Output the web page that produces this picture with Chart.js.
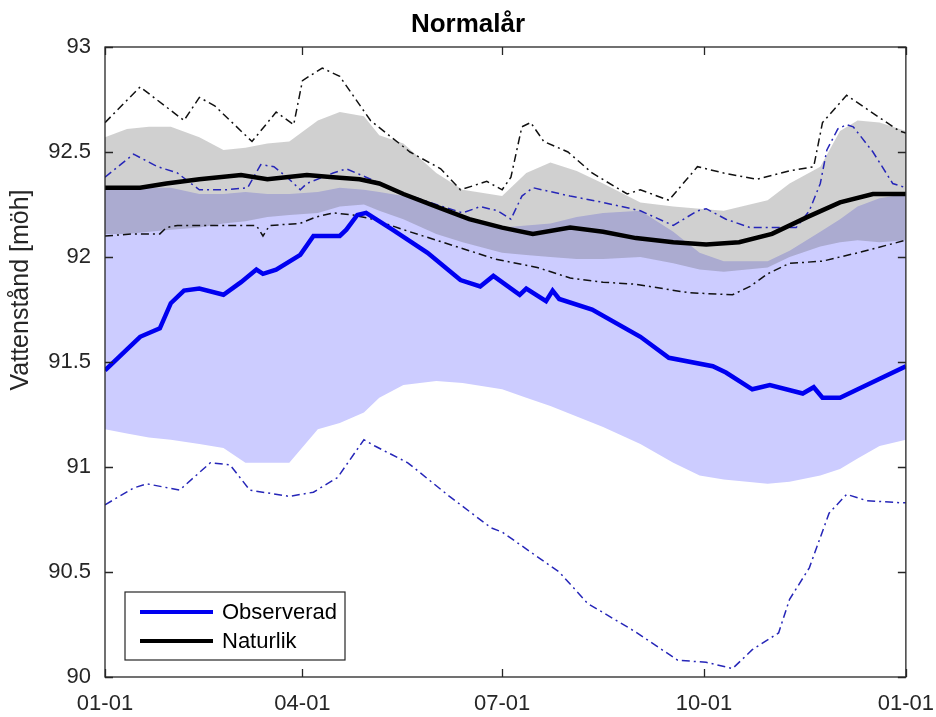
<!DOCTYPE html>
<html>
<head>
<meta charset="utf-8">
<script src="https://cdn.jsdelivr.net/npm/chart.js@4.4.1/dist/chart.umd.min.js"></script>
<style>
  html, body { margin: 0; padding: 0; background: #fff; }
  #wrap { width: 936px; height: 717px; }
</style>
</head>
<body>
<div id="wrap"><canvas id="chart" width="936" height="717"></canvas></div>
<script>
// x axis = day of year
const tickDays = [0, 90, 181, 273, 365]
const tickLabels = ["01-01", "04-01", "07-01", "10-01", "01-01"]

// shaded bands (shared day grid)
const bandDays = [0, 10, 20, 30, 43, 54, 64, 74, 84, 97, 107, 118, 125, 136, 151, 163, 181, 192, 203, 215, 227, 244, 259, 271, 282, 302, 312, 326, 335, 343, 353, 365]
const grayTop = [92.57, 92.61, 92.62, 92.62, 92.57, 92.51, 92.52, 92.54, 92.55, 92.65, 92.69, 92.67, 92.58, 92.54, 92.40, 92.32, 92.29, 92.40, 92.45, 92.41, 92.35, 92.26, 92.24, 92.23, 92.22, 92.27, 92.35, 92.43, 92.60, 92.65, 92.64, 92.60]
const grayBot = [92.11, 92.11, 92.12, 92.13, 92.14, 92.16, 92.17, 92.19, 92.20, 92.21, 92.24, 92.25, 92.22, 92.18, 92.11, 92.07, 92.02, 92.01, 92.00, 91.99, 91.99, 92.00, 91.97, 91.94, 91.93, 91.95, 92.00, 92.05, 92.07, 92.08, 92.07, 92.08]
const lavTop = [92.32, 92.33, 92.33, 92.33, 92.30, 92.30, 92.31, 92.30, 92.30, 92.31, 92.33, 92.32, 92.31, 92.29, 92.24, 92.20, 92.14, 92.15, 92.16, 92.19, 92.21, 92.22, 92.12, 92.02, 91.98, 91.98, 92.03, 92.12, 92.18, 92.24, 92.28, 92.30]
const lavBot = [91.18, 91.16, 91.14, 91.13, 91.11, 91.09, 91.02, 91.02, 91.02, 91.18, 91.21, 91.26, 91.33, 91.39, 91.41, 91.40, 91.37, 91.33, 91.29, 91.24, 91.19, 91.11, 91.02, 90.96, 90.94, 90.92, 90.93, 90.96, 90.99, 91.04, 91.10, 91.13]

// Observerad (thick blue)
const obsDays = [0, 8, 16, 25, 30, 36, 43, 54, 62, 69, 72, 78, 89, 95, 107, 110, 115, 119, 131, 147, 162, 171, 177, 189, 192, 201, 204, 207, 222, 244, 257, 277, 283, 295, 303, 318, 323, 327, 335, 345, 365]
const obsVals = [91.46, 91.54, 91.62, 91.66, 91.78, 91.84, 91.85, 91.82, 91.88, 91.94, 91.92, 91.94, 92.01, 92.10, 92.10, 92.13, 92.20, 92.21, 92.13, 92.02, 91.89, 91.86, 91.91, 91.82, 91.85, 91.79, 91.84, 91.80, 91.75, 91.62, 91.52, 91.48, 91.45, 91.37, 91.39, 91.35, 91.38, 91.33, 91.33, 91.38, 91.48]

// Naturlik (thick black)
const natDays = [0, 16, 28, 43, 62, 74, 92, 104, 116, 125, 136, 151, 166, 181, 195, 212, 227, 242, 259, 274, 289, 304, 320, 335, 350, 365]
const natVals = [92.33, 92.33, 92.35, 92.37, 92.39, 92.37, 92.39, 92.38, 92.37, 92.35, 92.30, 92.24, 92.18, 92.14, 92.11, 92.14, 92.12, 92.09, 92.07, 92.06, 92.07, 92.11, 92.19, 92.26, 92.30, 92.30]

// dash-dot envelopes
const natMaxDays = [0, 16, 36, 43, 50, 67, 78, 86, 90, 99, 107, 121, 139, 153, 162, 174, 181, 185, 190, 194, 200, 211, 222, 238, 244, 257, 270, 282, 297, 312, 323, 327, 338, 362, 365]
const natMaxVals = [92.64, 92.81, 92.65, 92.76, 92.72, 92.55, 92.69, 92.63, 92.84, 92.90, 92.86, 92.65, 92.50, 92.42, 92.32, 92.36, 92.32, 92.38, 92.62, 92.64, 92.55, 92.50, 92.40, 92.30, 92.32, 92.27, 92.43, 92.40, 92.37, 92.41, 92.43, 92.64, 92.77, 92.60, 92.59]
const natMinDays = [0, 13, 25, 28, 33, 43, 69, 72, 75, 89, 96, 104, 113, 122, 136, 151, 166, 178, 197, 212, 227, 242, 266, 286, 294, 302, 312, 327, 343, 365]
const natMinVals = [92.10, 92.11, 92.11, 92.14, 92.15, 92.15, 92.15, 92.10, 92.15, 92.16, 92.19, 92.21, 92.20, 92.18, 92.13, 92.08, 92.03, 91.99, 91.95, 91.90, 91.88, 91.87, 91.83, 91.82, 91.86, 91.92, 91.97, 91.98, 92.02, 92.08]
const obsMaxDays = [0, 13, 24, 33, 43, 55, 65, 71, 77, 83, 89, 92, 104, 110, 119, 134, 148, 163, 171, 179, 185, 190, 195, 212, 227, 244, 259, 270, 274, 283, 294, 315, 321, 326, 329, 334, 338, 341, 350, 359, 365]
const obsMaxVals = [92.38, 92.49, 92.43, 92.40, 92.32, 92.32, 92.33, 92.44, 92.43, 92.38, 92.32, 92.35, 92.40, 92.42, 92.38, 92.31, 92.26, 92.21, 92.24, 92.22, 92.18, 92.29, 92.33, 92.29, 92.26, 92.22, 92.15, 92.22, 92.23, 92.18, 92.14, 92.14, 92.22, 92.35, 92.51, 92.61, 92.63, 92.62, 92.50, 92.35, 92.33]
const obsMinDays = [0, 13, 19, 34, 48, 57, 66, 84, 95, 106, 118, 123, 138, 157, 176, 181, 207, 220, 241, 261, 274, 286, 295, 307, 312, 321, 330, 338, 347, 362, 365]
const obsMinVals = [90.82, 90.90, 90.92, 90.89, 91.02, 91.01, 90.89, 90.86, 90.88, 90.95, 91.13, 91.10, 91.02, 90.86, 90.71, 90.69, 90.50, 90.35, 90.22, 90.08, 90.07, 90.04, 90.13, 90.21, 90.37, 90.52, 90.78, 90.87, 90.84, 90.83, 90.83]

const pts = (days, vals) => days.map((d, i) => ({ x: d, y: vals[i] }))

const fontFamily = "'Liberation Sans', Arial, sans-serif"
const axisColor = "#262626"
const blueDash = "#2626b8"
const dashDot = [8, 4, 2, 4]
const noLine = "rgba(0,0,0,0)"
const yTitle = "Vattenstånd [möh]"

const common = { pointRadius: 0, pointHoverRadius: 0, tension: 0, fill: false }

// frame with inward ticks, y label and legend inside the plot (matlab look)
const framePlugin = {
  id: "frame",
  afterDatasetsDraw(chart) {
    const { ctx, chartArea: a, scales: { x, y } } = chart
    ctx.save()
    ctx.strokeStyle = axisColor
    ctx.lineWidth = 1.3
    ctx.strokeRect(a.left, a.top, a.right - a.left, a.bottom - a.top)
    ctx.beginPath()
    x.ticks.forEach((t) => {
      const px = Math.round(x.getPixelForValue(t.value)) + 0.5
      ctx.moveTo(px, a.bottom); ctx.lineTo(px, a.bottom - 8)
      ctx.moveTo(px, a.top); ctx.lineTo(px, a.top + 8)
    })
    y.ticks.forEach((t) => {
      const py = Math.round(y.getPixelForValue(t.value)) + 0.5
      ctx.moveTo(a.left, py); ctx.lineTo(a.left + 8, py)
      ctx.moveTo(a.right, py); ctx.lineTo(a.right - 8, py)
    })
    ctx.stroke()

    // y axis label, sits a bit above the middle like in the original
    ctx.save()
    ctx.translate(21, 290)
    ctx.rotate(-Math.PI / 2)
    ctx.font = "25px " + fontFamily
    ctx.fillStyle = axisColor
    ctx.textAlign = "center"
    ctx.textBaseline = "middle"
    ctx.fillText(yTitle, 0, 0)
    ctx.restore()

    // legend box
    const lx = a.left + 20, ly = a.bottom - 85, lw = 220, lh = 68
    ctx.fillStyle = "#fff"
    ctx.fillRect(lx, ly, lw, lh)
    ctx.lineWidth = 1.2
    ctx.strokeRect(lx, ly, lw, lh)
    const entries = [chart.data.datasets[0], chart.data.datasets[1]]
    ctx.font = "22px " + fontFamily
    ctx.textBaseline = "middle"
    entries.forEach((ds, i) => {
      const ey = ly + 20 + i * 29
      ctx.strokeStyle = ds.borderColor
      ctx.lineWidth = 4
      ctx.beginPath(); ctx.moveTo(lx + 15, ey); ctx.lineTo(lx + 88, ey); ctx.stroke()
      ctx.fillStyle = "#000"
      ctx.fillText(ds.label, lx + 97, ey + 1)
    })
    ctx.restore()
  }
}

new Chart(document.getElementById("chart"), {
  type: "line",
  data: {
    datasets: [
      { ...common, label: "Observerad", data: pts(obsDays, obsVals), borderColor: "#0000f0", borderWidth: 4.5 },
      { ...common, label: "Naturlik", data: pts(natDays, natVals), borderColor: "#000000", borderWidth: 4.5 },
      { ...common, label: "obsMax", data: pts(obsMaxDays, obsMaxVals), borderColor: blueDash, borderWidth: 1.5, borderDash: dashDot },
      { ...common, label: "obsMin", data: pts(obsMinDays, obsMinVals), borderColor: blueDash, borderWidth: 1.5, borderDash: dashDot },
      { ...common, label: "natMax", data: pts(natMaxDays, natMaxVals), borderColor: "#111111", borderWidth: 1.5, borderDash: dashDot },
      { ...common, label: "natMin", data: pts(natMinDays, natMinVals), borderColor: "#111111", borderWidth: 1.5, borderDash: dashDot },
      { ...common, label: "grayTop", data: pts(bandDays, grayTop), borderColor: noLine, borderWidth: 0, fill: "+1", backgroundColor: "rgba(80,80,80,0.27)" },
      { ...common, label: "grayBot", data: pts(bandDays, grayBot), borderColor: noLine, borderWidth: 0 },
      { ...common, label: "lavTop", data: pts(bandDays, lavTop), borderColor: noLine, borderWidth: 0, fill: "+1", backgroundColor: "#ccccff" },
      { ...common, label: "lavBot", data: pts(bandDays, lavBot), borderColor: noLine, borderWidth: 0 },
    ],
  },
  options: {
    responsive: false,
    animation: false,
    devicePixelRatio: 1,
    layout: { padding: { left: 0, right: 0, top: 0, bottom: 0 } },
    plugins: {
      legend: { display: false },
      tooltip: { enabled: false },
      title: {
        display: true,
        text: "Normalår",
        color: "#000",
        font: { family: fontFamily, size: 26, weight: "bold" },
        padding: { top: 9, bottom: 6.8 },
      },
    },
    scales: {
      x: {
        type: "linear",
        min: 0,
        max: 365,
        afterBuildTicks: (s) => { s.ticks = tickDays.map((v) => ({ value: v })) },
        afterFit: (s) => { s.height = 40 },
        ticks: {
          callback: (v, i) => tickLabels[i],
          autoSkip: false,
          maxRotation: 0,
          padding: 2,
          color: axisColor,
          font: { family: fontFamily, size: 22 },
        },
        // ticks are drawn inward by the plugin; tickLength only spaces the labels
        grid: { display: false, drawTicks: true, tickLength: 12 },
        border: { display: false },
      },
      y: {
        min: 90,
        max: 93,
        afterFit: (s) => { s.width = 105 },
        ticks: {
          stepSize: 0.5,
          callback: (v) => String(+Number(v).toFixed(1)),
          padding: 14,
          color: axisColor,
          font: { family: fontFamily, size: 22 },
        },
        title: { display: false },
        grid: { display: false, drawTicks: false },
        border: { display: false },
      },
    },
  },
  plugins: [framePlugin],
})
</script>
</body>
</html>
